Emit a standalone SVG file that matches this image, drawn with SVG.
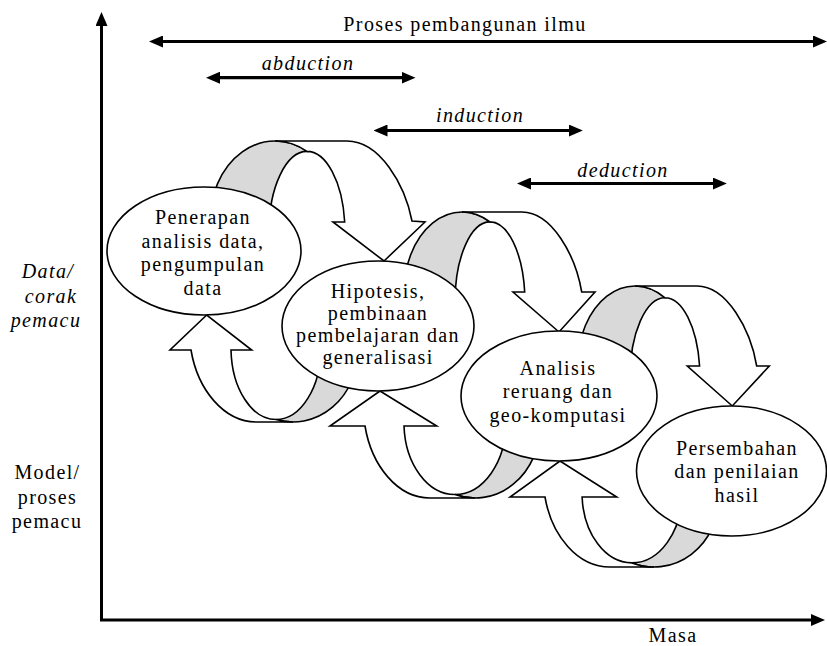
<svg xmlns="http://www.w3.org/2000/svg" width="827" height="646" viewBox="0 0 827 646">
<style>
  .t { font-family: "Liberation Serif", "Times New Roman", serif; font-size: 20px; letter-spacing: 1.4px; fill: #000; text-anchor: middle; }
  .i { font-style: italic; }
  .front { fill: #fff; stroke: #000; stroke-width: 1.6; stroke-linejoin: miter; }
  .back { fill: #d9d9d9; stroke: #000; stroke-width: 1.6; }
  .node { fill: #fff; stroke: #000; stroke-width: 1.6; }
  .ax { stroke: #000; stroke-width: 3; fill: none; }
  .span { stroke: #000; stroke-width: 3.2; fill: none; }
</style>
<defs>
  <marker id="ah" viewBox="0 0 14 12" refX="2" refY="6" markerWidth="14" markerHeight="12" markerUnits="userSpaceOnUse" orient="auto-start-reverse">
    <path d="M0,0 L14,6 L0,12 Z" fill="#000"/>
  </marker>
</defs>
<rect width="827" height="646" fill="#fff"/>

<g id="axes">
  <line class="ax" x1="101.5" y1="621" x2="101.5" y2="24" marker-end="url(#ah)"/>
  <line class="ax" x1="100" y1="620" x2="813" y2="620" marker-end="url(#ah)"/>
</g>

<g id="spans">
  <line class="span" x1="161" y1="41.5" x2="815" y2="41.5" marker-start="url(#ah)" marker-end="url(#ah)"/>
  <line class="span" x1="218" y1="77.7" x2="403.5" y2="77.7" marker-start="url(#ah)" marker-end="url(#ah)"/>
  <line class="span" x1="385.5" y1="130.5" x2="570.8" y2="130.5" marker-start="url(#ah)" marker-end="url(#ah)"/>
  <line class="span" x1="529" y1="183.5" x2="714.8" y2="183.5" marker-start="url(#ah)" marker-end="url(#ah)"/>
</g>

<g id="labels">
  <text class="t" x="465" y="31">Proses pembangunan ilmu</text>
  <text class="t i" x="308" y="70">abduction</text>
  <text class="t i" x="480" y="121.5">induction</text>
  <text class="t i" x="623" y="176.5">deduction</text>
  <text class="t i" x="48" y="278">Data/</text>
  <text class="t i" x="51" y="302.5">corak</text>
  <text class="t i" x="46" y="327">pemacu</text>
  <text class="t" x="47.5" y="479">Model/</text>
  <text class="t" x="47.5" y="503.5">proses</text>
  <text class="t" x="47" y="528">pemacu</text>
  <text class="t" x="673" y="641.5">Masa</text>
</g>

<g id="connectors">
  <!-- down arrow 1 -->
  <path class="back" d="M210 221 A65 80 0 0 1 307 151.4 A38 80 0 0 0 269 231.4 Z"/>
  <path class="front" d="M275 141 L347 141 C380 141 405 185 412 221 L425 222 L384 261 L333 222 L344.7 222 A38 80 0 0 0 307 151.4 A65 80 0 0 0 275 141 Z"/>
  <!-- down arrow 2 -->
  <path class="back" d="M404 292 A58 80 0 0 1 490 221.9 A35 80 0 0 0 455 301.9 Z"/>
  <path class="front" d="M462 212 L522 212 C552 212 575.7 256 581.7 292 L595 292 L559 332 L513 292 L524.7 292 A35 80 0 0 0 490 221.9 A58 80 0 0 0 462 212 Z"/>
  <!-- down arrow 3 -->
  <path class="back" d="M577.5 366 A57.5 80 0 0 1 665 297.75 A35 80 0 0 0 630 377.75 Z"/>
  <path class="front" d="M635 286 L697 286 C727 286 750.7 330 756.7 366 L769.3 366 L732.3 406 L687.3 366 L699.6 366 A35 80 0 0 0 665 297.75 A57.5 80 0 0 0 635 286 Z"/>
  <!-- up arrow 1 -->
  <path class="back" d="M358 350 A65 72 0 0 1 276 419.5 A45 72 0 0 0 321 347.5 Z"/>
  <path class="front" d="M293 422 L256.7 422 C223.8 422 197.6 389.6 191 350 L170 350 L206.7 315 L251.7 350 L231 350 A45 72 0 0 0 276 419.5 A65 72 0 0 0 293 422 Z"/>
  <!-- up arrow 2 -->
  <path class="back" d="M540 426 A65 72 0 0 1 455 494.5 A51 72 0 0 0 506 422.6 Z"/>
  <path class="front" d="M475 498 L430 498 C397.5 498 371.5 465.6 365 426 L330 426 L380 391 L436.7 426 L404 426 A51 72 0 0 0 455 494.5 A65 72 0 0 0 475 498 Z"/>
  <!-- up arrow 3 -->
  <path class="back" d="M719 497 A65 70 0 0 1 632 562.9 A50 70 0 0 0 682 492.9 Z"/>
  <path class="front" d="M654 567 L610 567 C577.5 567 551.5 535.5 545 497 L510 497 L560 461 L616.7 497 L582.1 497 A50 70 0 0 0 632 562.9 A65 70 0 0 0 654 567 Z"/>
</g>

<g id="node-penerapan">
  <ellipse class="node" cx="204" cy="251" rx="97" ry="64"/>
  <text class="t" x="203" y="224">Penerapan</text>
  <text class="t" x="203" y="247.5">analisis data,</text>
  <text class="t" x="203" y="271">pengumpulan</text>
  <text class="t" x="203" y="294.5">data</text>
</g>
<g id="node-hipotesis">
  <ellipse class="node" cx="378" cy="326" rx="96" ry="65"/>
  <text class="t" x="378" y="298">Hipotesis,</text>
  <text class="t" x="378" y="320">pembinaan</text>
  <text class="t" x="378" y="342">pembelajaran dan</text>
  <text class="t" x="378" y="363.5">generalisasi</text>
</g>
<g id="node-analisis">
  <ellipse class="node" cx="559" cy="396" rx="98" ry="65"/>
  <text class="t" x="558" y="375">Analisis</text>
  <text class="t" x="558" y="398">reruang dan</text>
  <text class="t" x="558" y="421.5">geo-komputasi</text>
</g>
<g id="node-persembahan">
  <ellipse class="node" cx="731.5" cy="471" rx="95" ry="65"/>
  <text class="t" x="737" y="455">Persembahan</text>
  <text class="t" x="737" y="478">dan penilaian</text>
  <text class="t" x="737" y="501.5">hasil</text>
</g>
</svg>
